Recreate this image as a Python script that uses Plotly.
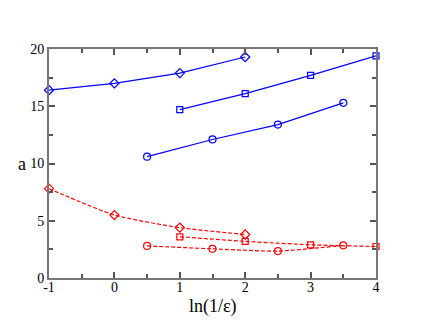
import plotly.graph_objects as go

x_diamond = [-1, 0, 1, 2]
x_square = [1, 2, 3, 4]
x_circle = [0.5, 1.5, 2.5, 3.5]

blue_diamond = [16.4, 17.0, 17.9, 19.3]
blue_square = [14.7, 16.1, 17.7, 19.4]
blue_circle = [10.6, 12.1, 13.4, 15.3]

red_diamond = [7.8, 5.5, 4.4, 3.8]
red_square = [3.6, 3.2, 2.9, 2.75]
red_circle = [2.8, 2.55, 2.35, 2.85]

x_ticks = [-1, 0, 1, 2, 3, 4]
x_tick_labels = ['-1', '0', '1', '2', '3', '4']

fig = go.Figure()

def add(x, y, color, symbol, size, dash, shape):
    fig.add_trace(go.Scatter(
        x=x, y=y,
        mode='lines+markers',
        cliponaxis=False,
        line=dict(color=color, width=1.2, dash=dash, shape=shape, smoothing=0.6),
        marker=dict(symbol=symbol, size=size, color=color, line=dict(color=color, width=1.2)),
        showlegend=False,
    ))

add(x_diamond, blue_diamond, 'blue', 'diamond-open', 7, 'solid', 'linear')
add(x_square, blue_square, 'blue', 'square-open', 6, 'solid', 'linear')
add(x_circle, blue_circle, 'blue', 'circle-open', 7, 'solid', 'linear')
add(x_diamond, red_diamond, 'red', 'diamond-open', 7, '4px,2px', 'spline')
add(x_square, red_square, 'red', 'square-open', 6, '4px,2px', 'spline')
add(x_circle, red_circle, 'red', 'circle-open', 7, '4px,2px', 'spline')

axis_common = dict(
    showgrid=False, zeroline=False,
    showline=True, linecolor='#777777', linewidth=2, mirror='ticks',
    ticks='inside', ticklen=6, tickwidth=1.5, tickcolor='#555555',
    tickfont=dict(family='Liberation Serif', size=14, color='black'),
)

fig.update_xaxes(range=[-1, 4], tickvals=x_ticks, ticktext=x_tick_labels,
                 ticklabelstandoff=-5,
                 minor=dict(ticks='inside', dtick=0.5, ticklen=4, tickcolor='#555555'),
                 **axis_common)
fig.update_yaxes(range=[0, 20], dtick=5, tick0=0,
                 minor=dict(ticks='inside', dtick=2.5, ticklen=4, tickcolor='#555555'),
                 **axis_common)

fig.add_annotation(text='ln(1/ε)', xref='paper', yref='paper', x=0.5, y=-0.07,
                   yanchor='top', showarrow=False,
                   font=dict(family='Liberation Serif', size=18, color='black'))
fig.add_annotation(text='a', xref='paper', yref='paper', x=-0.065, y=0.5,
                   xanchor='right', showarrow=False,
                   font=dict(family='Liberation Serif', size=18, color='black'))

fig.update_layout(
    width=415, height=319,
    margin=dict(l=41, r=47, t=41, b=49),
    plot_bgcolor='white', paper_bgcolor='white',
)

fig.write_html("out.html")
